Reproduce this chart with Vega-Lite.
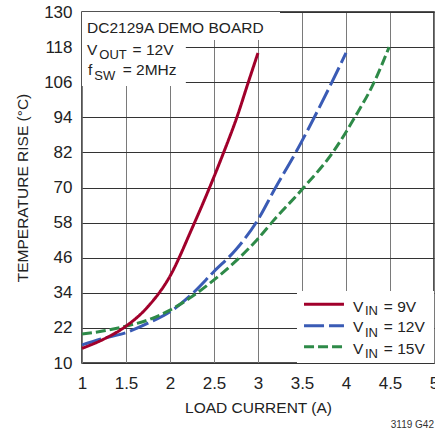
{
  "$schema": "https://vega.github.io/schema/vega-lite/v6.json",
  "width": 352,
  "height": 351,
  "autosize": {"type": "none"},
  "padding": {"left": 82, "top": 12, "right": 1, "bottom": 73},
  "background": "white",
  "title": {"text": "3119 G42", "orient": "bottom", "anchor": "end", "frame": "group", "fontSize": 10, "font": "Liberation Sans", "fontWeight": "normal", "color": "#333", "offset": 4},
  "config": {
    "view": {"stroke": "#1a1a1a", "strokeWidth": 1.5},
    "font": "Liberation Sans",
    "axis": {"domain": false, "ticks": false, "grid": true, "gridWidth": 1, "labelFont": "Liberation Sans", "labelFontSize": 17, "labelColor": "#222", "titleFont": "Liberation Sans", "titleFontSize": 15.5, "titleFontWeight": "normal", "titleColor": "#222"},
    "axisX": {"gridColor": "#7a7a7a", "labelPadding": 12, "titlePadding": 9, "labelFlush": false},
    "axisY": {"gridColor": "#333", "labelPadding": 10, "titlePadding": 13}
  },
  "datasets": {
    "curves": [
      {"s": "12V", "x": 1, "y": 16.2}, {"s": "12V", "x": 1.25, "y": 18.5}, {"s": "12V", "x": 1.5, "y": 20.4}, {"s": "12V", "x": 1.75, "y": 23.6}, {"s": "12V", "x": 2, "y": 27.5}, {"s": "12V", "x": 2.25, "y": 33.6}, {"s": "12V", "x": 2.5, "y": 41.3}, {"s": "12V", "x": 2.75, "y": 48.8}, {"s": "12V", "x": 3, "y": 59}, {"s": "12V", "x": 3.2, "y": 70}, {"s": "12V", "x": 3.43, "y": 82}, {"s": "12V", "x": 3.64, "y": 94}, {"s": "12V", "x": 3.84, "y": 106}, {"s": "12V", "x": 4, "y": 116},
      {"s": "15V", "x": 1, "y": 19.9}, {"s": "15V", "x": 1.25, "y": 21}, {"s": "15V", "x": 1.5, "y": 22.6}, {"s": "15V", "x": 1.75, "y": 24.7}, {"s": "15V", "x": 2, "y": 28.1}, {"s": "15V", "x": 2.25, "y": 32.7}, {"s": "15V", "x": 2.5, "y": 38.4}, {"s": "15V", "x": 2.75, "y": 44.9}, {"s": "15V", "x": 3, "y": 52.5}, {"s": "15V", "x": 3.17, "y": 58.5}, {"s": "15V", "x": 3.52, "y": 70}, {"s": "15V", "x": 3.85, "y": 82}, {"s": "15V", "x": 4.1, "y": 94}, {"s": "15V", "x": 4.32, "y": 106}, {"s": "15V", "x": 4.49, "y": 118},
      {"s": "9V", "x": 1, "y": 15}, {"s": "9V", "x": 1.25, "y": 18.2}, {"s": "9V", "x": 1.5, "y": 22.6}, {"s": "9V", "x": 1.75, "y": 29.3}, {"s": "9V", "x": 2, "y": 39.7}, {"s": "9V", "x": 2.25, "y": 56}, {"s": "9V", "x": 2.45, "y": 70}, {"s": "9V", "x": 2.61, "y": 82}, {"s": "9V", "x": 2.76, "y": 94}, {"s": "9V", "x": 2.89, "y": 106}, {"s": "9V", "x": 3, "y": 116}
    ],
    "boxes": [
      {"x": 1, "x2": 3.25, "y": 120.4, "y2": 130},
      {"x": 1, "x2": 2.18, "y": 104.7, "y2": 120.4},
      {"x": 3.443, "x2": 5, "y": 10, "y2": 34.6}
    ],
    "keys": [
      {"s": "9V", "x": 3.523, "x2": 3.977, "y": 30.07},
      {"s": "12V", "x": 3.523, "x2": 3.977, "y": 22.75},
      {"s": "15V", "x": 3.523, "x2": 3.977, "y": 15.57}
    ],
    "texts": [
      {"t": "DC2129A DEMO BOARD", "x": 1.057, "y": 122.7},
      {"t": "V", "x": 1.057, "y": 115.3},
      {"t": "= 12V", "x": 1.575, "y": 115.3},
      {"t": "f", "x": 1.068, "y": 108.5},
      {"t": "= 2MHz", "x": 1.462, "y": 108.5},
      {"t": "V", "x": 4.08, "y": 27.54},
      {"t": "= 9V", "x": 4.43, "y": 27.54},
      {"t": "V", "x": 4.08, "y": 20.5},
      {"t": "= 12V", "x": 4.43, "y": 20.5},
      {"t": "V", "x": 4.08, "y": 13.08},
      {"t": "= 15V", "x": 4.43, "y": 13.08}
    ],
    "subs": [
      {"t": "OUT", "x": 1.197, "y": 113.8},
      {"t": "SW", "x": 1.14, "y": 106.8},
      {"t": "IN", "x": 4.216, "y": 26.4},
      {"t": "IN", "x": 4.216, "y": 19.0},
      {"t": "IN", "x": 4.216, "y": 11.6}
    ]
  },
  "encoding": {
    "x": {"field": "x", "type": "quantitative", "scale": {"domain": [1, 5], "nice": false, "zero": false}, "axis": {"values": [1, 1.5, 2, 2.5, 3, 3.5, 4, 4.5, 5], "format": "~g"}, "title": "LOAD CURRENT (A)"},
    "y": {"field": "y", "type": "quantitative", "scale": {"domain": [10, 130], "nice": false, "zero": false}, "axis": {"values": [10, 22, 34, 46, 58, 70, 82, 94, 106, 118, 130]}, "title": "TEMPERATURE RISE (°C)"}
  },
  "layer": [
    {
      "data": {"name": "boxes"},
      "mark": {"type": "rect", "fill": "white"},
      "encoding": {"x2": {"field": "x2"}, "y2": {"field": "y2"}}
    },
    {
      "data": {"name": "curves"},
      "mark": {"type": "line", "interpolate": "monotone", "strokeWidth": 3, "strokeCap": "butt"},
      "encoding": {
        "color": {"field": "s", "type": "nominal", "scale": {"domain": ["9V", "12V", "15V"], "range": ["#A1002B", "#3A5BB5", "#2E8A48"]}, "legend": null},
        "strokeDash": {"field": "s", "type": "nominal", "scale": {"domain": ["9V", "12V", "15V"], "range": [[1, 0], [20, 5], [10, 4]]}, "legend": null}
      }
    },
    {
      "data": {"name": "keys"},
      "mark": {"type": "rule", "strokeWidth": 3, "strokeCap": "butt"},
      "encoding": {
        "x2": {"field": "x2"},
        "color": {"field": "s", "type": "nominal", "scale": {"domain": ["9V", "12V", "15V"], "range": ["#A1002B", "#3A5BB5", "#2E8A48"]}, "legend": null},
        "strokeDash": {"field": "s", "type": "nominal", "scale": {"domain": ["9V", "12V", "15V"], "range": [[1, 0], [20, 5], [10, 4]]}, "legend": null}
      }
    },
    {
      "data": {"name": "texts"},
      "mark": {"type": "text", "align": "left", "baseline": "alphabetic", "fontSize": 15.5, "font": "Liberation Sans", "color": "#222"},
      "encoding": {"text": {"field": "t"}}
    },
    {
      "data": {"name": "subs"},
      "mark": {"type": "text", "align": "left", "baseline": "alphabetic", "fontSize": 13, "font": "Liberation Sans", "color": "#222"},
      "encoding": {"text": {"field": "t"}}
    }
  ]
}
